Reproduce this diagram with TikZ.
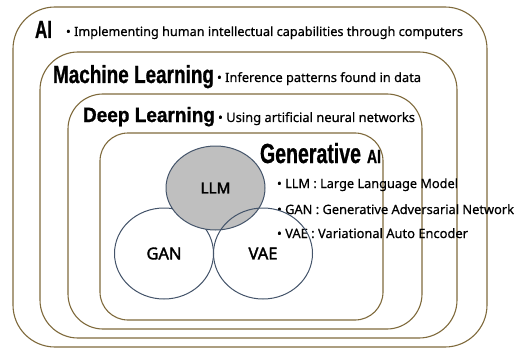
\documentclass[tikz,border=0pt]{standalone}
\usepackage{fontspec}
\setmainfont{Noto Sans}
\newfontfamily\hdrfont{Liberation Sans}[FakeBold=1]
\newfontfamily\bodyfont{Noto Sans}[FakeBold=0.6]
\newfontfamily\lblfont{Noto Sans}[FakeBold=2]
\usetikzlibrary{shapes.geometric}
\definecolor{boxc}{HTML}{7F6A3C}
\definecolor{circc}{HTML}{44546A}
\definecolor{llmfill}{HTML}{BFBFBF}
\newcommand{\hdrtxt}[3]{\resizebox{#1}{#2}{\hdrfont\bfseries #3}}
\newcommand{\bodytxt}[2]{\resizebox{#1}{!}{\bodyfont #2}}
\newcommand{\lbltxt}[2]{\resizebox{#1}{!}{\lblfont #2}}
\begin{document}
\begin{tikzpicture}[x=1pt,y=-1pt,
  layer/.style={draw=boxc, line width=1.1pt},
  txt/.style={anchor=base west, inner sep=0pt, outer sep=0pt, text=black},
  circ/.style={ellipse, draw=circc, line width=1pt, inner sep=0pt, minimum width=99pt, minimum height=91pt}]
\useasboundingbox (0,0) rectangle (524,350);
% nested layers
\draw[layer, rounded corners=42pt] (13,7) rectangle (487,347);
\draw[layer, rounded corners=38pt] (40,52) rectangle (457,338);
\draw[layer, rounded corners=35pt] (68,94) rectangle (422,329);
\draw[layer, rounded corners=28pt] (100,133) rectangle (383,320);
% titles and descriptions
\node[txt] (ai) at (35,38) {\hdrtxt{17pt}{17pt}{AI}};
\node[txt] (aidesc) at (66,36) {\bodytxt{397pt}{• Implementing human intellectual capabilities through computers}};
\node[txt] (ml) at (53,83) {\hdrtxt{161pt}{18pt}{Machine Learning}};
\node[txt] (mldesc) at (217,82) {\bodytxt{204pt}{• Inference patterns found in data}};
\node[txt] (dl) at (83,122) {\hdrtxt{132pt}{15pt}{Deep Learning}};
\node[txt] (dldesc) at (218,122) {\bodytxt{197pt}{• Using artificial neural networks}};
\node[txt] (gen) at (260,163) {\hdrtxt{101pt}{20pt}{Generative}};
\node[txt] (genai) at (367,163) {\hdrtxt{14pt}{13pt}{AI}};
\node[txt] (llmdesc) at (277,188) {\bodytxt{181pt}{• LLM : Large Language Model}};
\node[txt] (gandesc) at (277,214) {\bodytxt{237pt}{• GAN : Generative Adversarial Network}};
\node[txt] (vaedesc) at (277,238) {\bodytxt{191pt}{• VAE : Variational Auto Encoder}};
% circles
\node[circ, fill=white] (gan) at (164,253.5) {\lbltxt{35pt}{GAN}};
\node[circ, fill=llmfill, minimum height=84pt] (llm) at (215.5,188) {\lbltxt{30pt}{LLM}};
\node[circ] (vae) at (263,253.5) {\lbltxt{29pt}{VAE}};
\end{tikzpicture}
\end{document}
